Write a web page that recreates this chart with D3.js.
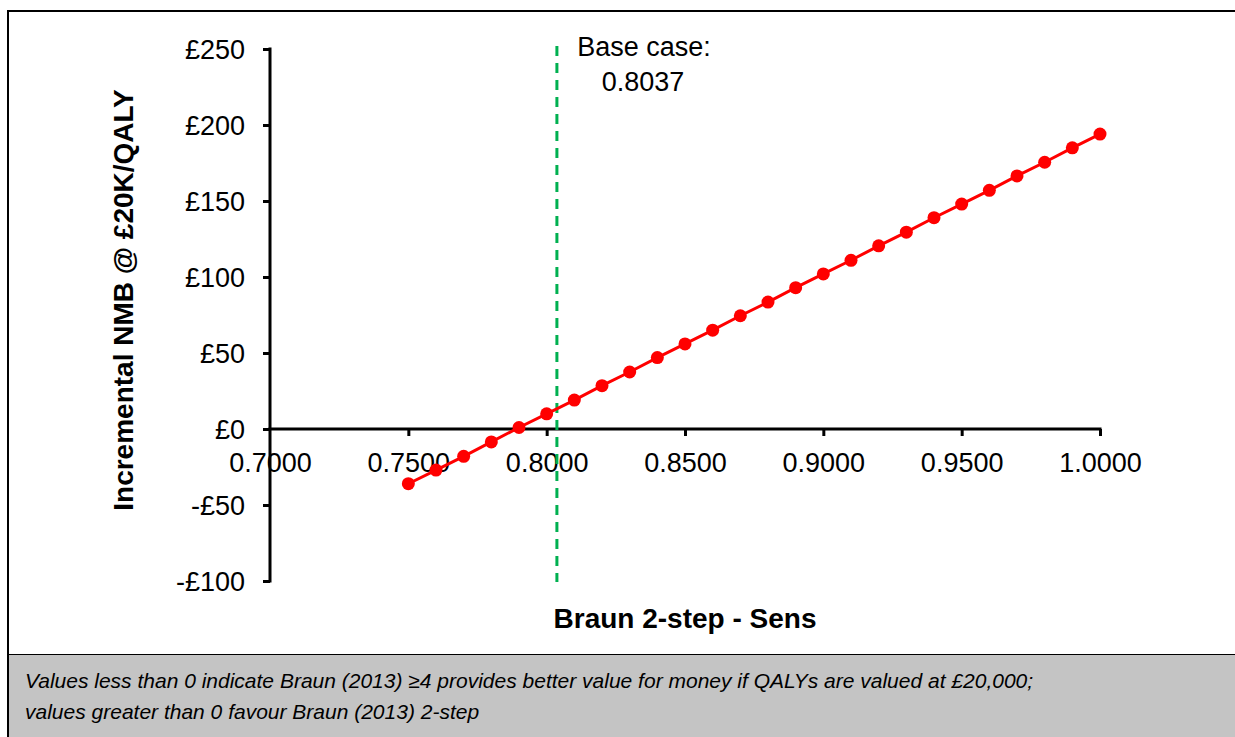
<!DOCTYPE html>
<html>
<head>
<meta charset="utf-8">
<script src="https://cdn.jsdelivr.net/npm/d3@7"></script>
<style>
  body { margin: 0; background: #fff; }
  svg { display: block; font-family: "Liberation Sans", Arial, sans-serif; }
</style>
</head>
<body>
<svg width="1235" height="737"></svg>
<script>
// sensitivity values (x) and incremental NMB (y)
var sens = [0.75, 0.76, 0.77, 0.78, 0.79, 0.80, 0.81, 0.82, 0.83, 0.84, 0.85, 0.86, 0.87,
            0.88, 0.89, 0.90, 0.91, 0.92, 0.93, 0.94, 0.95, 0.96, 0.97, 0.98, 0.99, 1.00];
var nmb = [-36, -27, -18, -8.5, 1, 10, 19, 28.5, 37.5, 47, 56, 65, 74.5,
           83.5, 93, 102, 111, 120.5, 129.5, 139, 148, 157, 166.5, 175.5, 185, 194];
var yTicks = [-100, -50, 0, 50, 100, 150, 200, 250];
var xTicks = [0.70, 0.75, 0.80, 0.85, 0.90, 0.95, 1.00];
var baseCase = 0.8037;

var svg = d3.select("svg");

// outer frame + note box
svg.append("rect").attr("x", 8).attr("y", 11).attr("width", 1300).attr("height", 800)
  .attr("fill", "none").attr("stroke", "#000").attr("stroke-width", 2);
svg.append("rect").attr("x", 9).attr("y", 655).attr("width", 1300).attr("height", 100)
  .attr("fill", "#c4c4c4");
svg.append("line").attr("x1", 9).attr("x2", 1235).attr("y1", 654.5).attr("y2", 654.5)
  .attr("stroke", "#000").attr("stroke-width", 1);

var x = d3.scaleLinear().domain([0.7, 1.0]).range([270, 1100]);
var y = d3.scaleLinear().domain([-100, 250]).range([581, 49]);

// y axis
var yAxis = svg.append("g").attr("transform", "translate(" + x(0.7) + ",0)")
  .call(d3.axisLeft(y).tickValues(yTicks).tickSizeInner(7).tickSizeOuter(0).tickPadding(18)
    .tickFormat(function (d) { return d < 0 ? "-£" + Math.abs(d) : "£" + d; }));
yAxis.select(".domain").attr("stroke-width", 3).attr("d", "M0," + (y(-100) + 1.5) + "V" + (y(250) - 1.5));
yAxis.selectAll(".tick line").attr("stroke-width", 3);
yAxis.selectAll("text").attr("font-size", 27).attr("fill", "#000")
  .attr("font-family", "Liberation Sans, Arial, sans-serif").attr("dy", "0.35em");

// x axis through zero
var xAxis = svg.append("g").attr("transform", "translate(0," + y(0) + ")")
  .call(d3.axisBottom(x).tickValues(xTicks).tickSizeInner(7).tickSizeOuter(0).tickPadding(17)
    .tickFormat(d3.format(".4f")));
xAxis.select(".domain").attr("stroke-width", 3).attr("d", "M" + (x(0.7) - 1.5) + ",0H" + (x(1.0) + 1.5));
xAxis.selectAll(".tick line").attr("stroke-width", 3);
xAxis.selectAll(".tick").filter(function (d) { return d === 0.7; }).select("line").remove();
xAxis.selectAll("text").attr("font-size", 27).attr("fill", "#000")
  .attr("font-family", "Liberation Sans, Arial, sans-serif");

// base case line
svg.append("line")
  .attr("x1", x(baseCase)).attr("x2", x(baseCase))
  .attr("y1", 46).attr("y2", 582)
  .attr("stroke", "#00b050").attr("stroke-width", 3).attr("stroke-dasharray", "10,7");

svg.append("text").attr("x", 644).attr("y", 56).attr("text-anchor", "middle")
  .attr("font-size", 27).text("Base case:");
svg.append("text").attr("x", 643).attr("y", 91).attr("text-anchor", "middle")
  .attr("font-size", 27).text(baseCase.toFixed(4));

// series
var pts = sens.map(function (s, i) { return {x: s, y: nmb[i]}; });
svg.append("path").datum(pts)
  .attr("d", d3.line().x(function (d) { return x(d.x); }).y(function (d) { return y(d.y); }))
  .attr("fill", "none").attr("stroke", "#ff0000").attr("stroke-width", 3);
svg.selectAll("circle.pt").data(pts).enter().append("circle")
  .attr("class", "pt")
  .attr("cx", function (d) { return x(d.x); })
  .attr("cy", function (d) { return y(d.y); })
  .attr("r", 6.5)
  .attr("fill", "#ff0000");

// axis titles
svg.append("text").attr("x", 685).attr("y", 628).attr("text-anchor", "middle")
  .attr("font-size", 28).attr("font-weight", "bold").text("Braun 2-step - Sens");
svg.append("text").attr("transform", "translate(133,300) rotate(-90)").attr("text-anchor", "middle")
  .attr("font-size", 28).attr("font-weight", "bold").text("Incremental NMB @ £20K/QALY");

// note
svg.append("text").attr("x", 25).attr("y", 688).attr("font-size", 21).attr("font-style", "italic")
  .text("Values less than 0 indicate Braun (2013) ≥4 provides better value for money if QALYs are valued at £20,000;");
svg.append("text").attr("x", 25).attr("y", 719).attr("font-size", 21).attr("font-style", "italic")
  .text("values greater than 0 favour Braun (2013) 2-step");
</script>
</body>
</html>
